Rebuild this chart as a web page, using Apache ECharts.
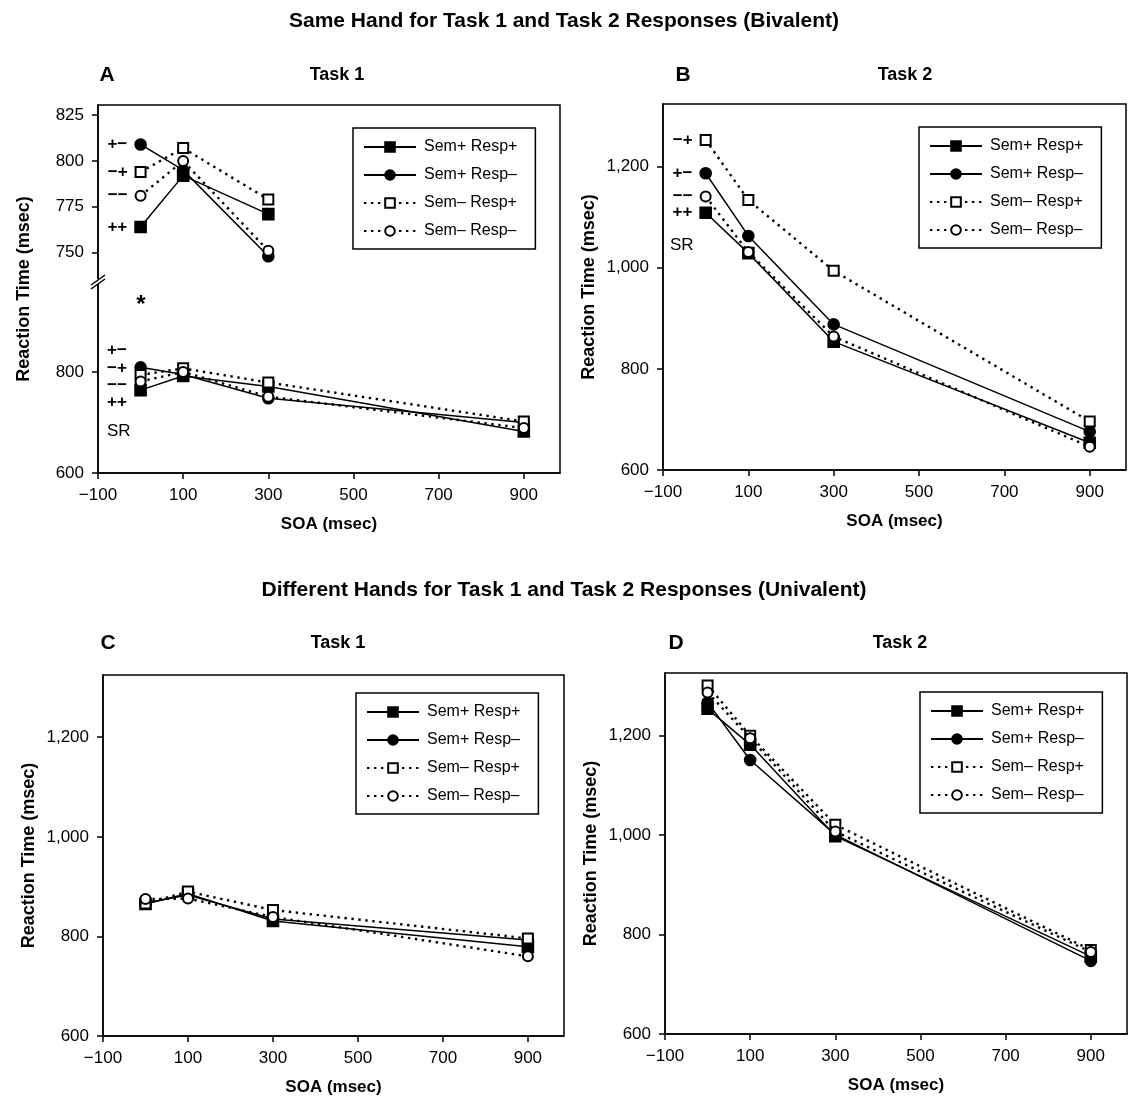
<!DOCTYPE html>
<html>
<head>
<meta charset="utf-8">
<script src="https://cdn.jsdelivr.net/npm/echarts@6/dist/echarts.min.js"></script>
<style>
html,body{margin:0;padding:0;background:#fff}
#main{width:1128px;height:1097px}
</style>
</head>
<body>
<div id="main"></div>
<script>
// x positions (SOA) and tick values
var soa = [0, 100, 300, 900];
var soaInset = [0, 100, 300];
var xTicks = [-100, 100, 300, 500, 700, 900];
var yTicks = [600, 800, 1000, 1200];
var yTicksInset = [750, 775, 800, 825];
var yTicksLowA = [600, 800];

var seriesNames = ['Sem+ Resp+', 'Sem+ Resp–', 'Sem– Resp+', 'Sem– Resp–'];
var tags = ['++', '+−', '−+', '−−'];

// A: same hand, task 1
var aSpRp = [764, 792, 771, 682];
var aSpRm = [809, 795, 748, 700];
var aSmRp = [794, 807, 779, 702];
var aSmRm = [781, 800, 751, 689];
// B: same hand, task 2
var bSpRp = [1109, 1029, 854, 654];
var bSpRm = [1187, 1063, 888, 676];
var bSmRp = [1253, 1134, 994, 696];
var bSmRm = [1141, 1031, 864, 646];
// C: different hands, task 1
var cSpRp = [865, 886, 831, 779];
var cSpRm = [867, 883, 835, 793];
var cSmRp = [866, 890, 853, 796];
var cSmRm = [875, 876, 839, 760];
// D: different hands, task 2
var dSpRp = [1254, 1182, 998, 756];
var dSpRm = [1267, 1151, 1001, 747];
var dSmRp = [1301, 1200, 1021, 769];
var dSmRm = [1287, 1195, 1007, 765];

var FONT = '"Liberation Sans", Arial, Helvetica, sans-serif';

function fmt(v) {
    var s = String(Math.abs(v));
    if (s.length > 3) s = s.slice(0, s.length - 3) + ',' + s.slice(-3);
    return (v < 0 ? '\u2212' : '') + s;
}

var looks = [
    {symbol: 'rect', size: 11, type: 'solid', width: 1.5},
    {symbol: 'circle', size: 11, type: 'solid', width: 1.5},
    {symbol: 'emptyRect', size: 10, type: [2.4, 4.6], width: 2.4},
    {symbol: 'emptyCircle', size: 10, type: [2.4, 4.6], width: 2.4}
];

function makeSeries(i, xs, ys, gi, withTag) {
    var data = [];
    for (var k = 0; k < xs.length; k++) {
        var d = {value: [xs[k], ys[k]]};
        if (withTag && k === 0) {
            d.label = {
                show: true, position: 'left', distance: 7,
                formatter: tags[i], color: '#000',
                fontFamily: FONT, fontWeight: 'bold', fontSize: 17
            };
        }
        data.push(d);
    }
    var lk = looks[i];
    return {
        name: seriesNames[i],
        type: 'line',
        xAxisIndex: gi, yAxisIndex: gi,
        data: data,
        symbol: lk.symbol,
        symbolSize: lk.size,
        showSymbol: true,
        lineStyle: {color: '#000', width: lk.width, type: lk.type},
        itemStyle: {color: '#000', borderColor: '#000', borderWidth: 1.6},
        label: {show: false},
        emphasis: {disabled: true},
        z: 2 + i
    };
}

var grids = [
    {left: 98, top: 105, width: 462, height: 177},
    {left: 98, top: 105, width: 462, height: 368, show: true, borderColor: '#000', borderWidth: 1.5},
    {left: 663, top: 104, width: 463, height: 366, show: true, borderColor: '#000', borderWidth: 1.5},
    {left: 103, top: 675, width: 461, height: 361, show: true, borderColor: '#000', borderWidth: 1.5},
    {left: 665, top: 673, width: 462, height: 361, show: true, borderColor: '#000', borderWidth: 1.5}
];

function xAxisFor(gi, visible) {
    return {
        type: 'value', gridIndex: gi, min: -100, max: 985, show: visible,
        name: 'SOA (msec)', nameLocation: 'middle', nameGap: 43,
        nameTextStyle: {color: '#000', fontFamily: FONT, fontWeight: 'bold', fontSize: 17},
        axisLine: {show: true, onZero: false, lineStyle: {color: '#000', width: 1.5}},
        axisTick: {show: true, inside: false, length: 6, customValues: xTicks, lineStyle: {color: '#000', width: 1.5}},
        axisLabel: {customValues: xTicks, formatter: fmt, color: '#000', fontFamily: FONT, fontSize: 17, margin: 14},
        splitLine: {show: false}
    };
}

function yAxisFor(gi, min, max, ticks, opt) {
    opt = opt || {};
    return {
        type: 'value', gridIndex: gi, min: min, max: max,
        name: opt.noName ? '' : 'Reaction Time (msec)',
        nameLocation: 'middle', nameGap: 65,
        nameTextStyle: {color: '#000', fontFamily: FONT, fontWeight: 'bold', fontSize: 18},
        axisLine: {show: !opt.noLine, onZero: false, lineStyle: {color: '#000', width: 1.5}},
        axisTick: {show: true, inside: false, length: 6, customValues: ticks, lineStyle: {color: '#000', width: 1.5}},
        axisLabel: {customValues: ticks, formatter: fmt, color: '#000', fontFamily: FONT, fontSize: 17, margin: 14},
        splitLine: {show: false}
    };
}

var xAxes = [xAxisFor(0, false), xAxisFor(1, true), xAxisFor(2, true), xAxisFor(3, true), xAxisFor(4, true)];
var yAxes = [
    yAxisFor(0, 734, 830.5, yTicksInset, {noName: true, noLine: true}),
    yAxisFor(1, 600, 1328, yTicksLowA),
    yAxisFor(2, 600, 1324, yTicks),
    yAxisFor(3, 600, 1325, yTicks),
    yAxisFor(4, 600, 1326, yTicks)
];

var panelData = [
    [aSpRp, aSpRm, aSmRp, aSmRm],
    [aSpRp, aSpRm, aSmRp, aSmRm],
    [bSpRp, bSpRm, bSmRp, bSmRm],
    [cSpRp, cSpRm, cSmRp, cSmRm],
    [dSpRp, dSpRm, dSmRp, dSmRm]
];

var series = [];
panelData.forEach(function (sets, gi) {
    sets.forEach(function (ys, i) {
        if (gi === 0) {
            series.push(makeSeries(i, soaInset, ys.slice(0, 3), 0, true));
        } else {
            series.push(makeSeries(i, soa, ys, gi, gi === 2));
        }
    });
});

function legendAt(left, top) {
    return {
        data: seriesNames, orient: 'vertical', left: left, top: top,
        padding: [10, 18, 9, 10], itemGap: 10, itemWidth: 52, itemHeight: 12,
        borderColor: '#000', borderWidth: 1.5, backgroundColor: '#fff',
        selectedMode: false,
        textStyle: {color: '#000', fontFamily: FONT, fontSize: 16, lineHeight: 18, padding: [0, 0, 0, 3]}
    };
}

function txt(x, y, s, font, align) {
    return {
        type: 'text', x: x, y: y, z: 100,
        style: {text: s, font: font, fill: '#000', align: align || 'center', verticalAlign: 'middle'}
    };
}

var bold21 = 'bold 21px ' + FONT;
var bold18 = 'bold 18px ' + FONT;
var bold17 = 'bold 17px ' + FONT;
var reg17 = '17px ' + FONT;

var graphics = [
    txt(564, 21, 'Same Hand for Task 1 and Task 2 Responses (Bivalent)', bold21),
    txt(107, 75, 'A', bold21),
    txt(337, 75, 'Task 1', bold18),
    txt(683, 75, 'B', bold21),
    txt(905, 75, 'Task 2', bold18),
    txt(564, 590, 'Different Hands for Task 1 and Task 2 Responses (Univalent)', bold21),
    txt(108, 643, 'C', bold21),
    txt(338, 643, 'Task 1', bold18),
    txt(676, 643, 'D', bold21),
    txt(900, 643, 'Task 2', bold18),
    // panel A lower tags
    txt(107, 350, '+\u2212', bold17, 'left'),
    txt(107, 368, '\u2212+', bold17, 'left'),
    txt(107, 385, '\u2212\u2212', bold17, 'left'),
    txt(107, 402, '++', bold17, 'left'),
    txt(107, 431, 'SR', reg17, 'left'),
    txt(141, 305, '*', 'bold 24px ' + FONT),
    // panel B
    txt(670, 245, 'SR', reg17, 'left'),
    // axis break on panel A
    {type: 'rect', z: 100, shape: {x: 94, y: 279, width: 8, height: 5}, style: {fill: '#fff'}},
    {type: 'line', z: 101, shape: {x1: 91, y1: 285, x2: 105, y2: 275}, style: {stroke: '#000', lineWidth: 1.5}},
    {type: 'line', z: 101, shape: {x1: 91, y1: 289, x2: 105, y2: 279}, style: {stroke: '#000', lineWidth: 1.5}}
];

var chart = echarts.init(document.getElementById('main'), null, {renderer: 'canvas'});
chart.setOption({
    backgroundColor: '#fff',
    animation: false,
    textStyle: {fontFamily: FONT},
    grid: grids,
    xAxis: xAxes,
    yAxis: yAxes,
    legend: [legendAt(353, 128), legendAt(919, 127), legendAt(356, 693), legendAt(920, 692)],
    series: series,
    graphic: graphics
});
</script>
</body>
</html>
